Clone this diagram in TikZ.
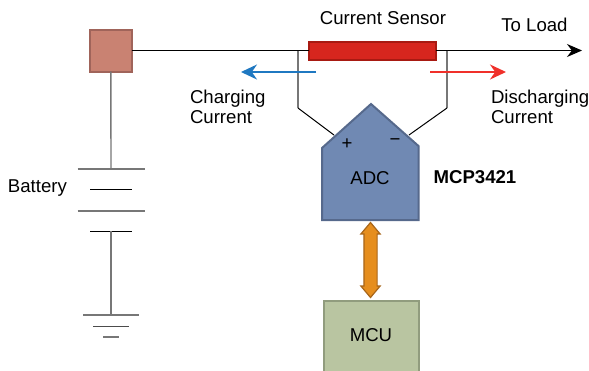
\documentclass[tikz,border=0pt]{standalone}
\usepackage{fontspec}
\setmainfont{Liberation Sans}
\usetikzlibrary{arrows,arrows.meta,positioning,shapes.arrows}
\definecolor{boxfill}{HTML}{C98272}
\definecolor{boxline}{HTML}{A0645A}
\definecolor{sensorfill}{HTML}{D7261E}
\definecolor{sensorline}{HTML}{A81A12}
\definecolor{adcfill}{HTML}{7089B3}
\definecolor{adcline}{HTML}{56698C}
\definecolor{mcufill}{HTML}{B9C5A1}
\definecolor{mculine}{HTML}{919C7E}
\definecolor{busfill}{HTML}{E68E1E}
\definecolor{busline}{HTML}{A8661A}
\definecolor{wiregray}{HTML}{777777}
\definecolor{chargeblue}{HTML}{1F78C1}
\definecolor{dischargered}{HTML}{F0302A}
\tikzset{
    label/.style = {inner sep=0pt, outer sep=0pt, font=\fontsize{18.6}{19}\selectfont, align=left},
    block/.style = {draw, line width=2pt, outer sep=0pt, inner sep=0pt},
    wire/.style = {draw=black, line width=1pt},
    graywire/.style = {draw=wiregray, line width=1.4pt},
    flow/.style = {line width=2pt, -{Stealth[length=16pt,width=15pt]}},
}

\begin{document}
\begin{tikzpicture}[x=1pt,y=1pt,>=stealth']
\useasboundingbox (0,0) rectangle (589,-370);

\node (cell) [block,fill=boxfill,draw=boxline,minimum width=42pt,minimum height=42pt] at (110.8,-50.5) {};
\node (sensor) [block,fill=sensorfill,draw=sensorline,minimum width=127pt,minimum height=18pt,right=177pt of cell] {};
\coordinate (load) at (582,-50.5);
\coordinate (tapleft) at (298,-50.5);
\coordinate (tapright) at (447,-50.5);

% battery
\coordinate (platea) at (111,-169);
\coordinate (plateb) at ([yshift=-20pt]platea);
\coordinate (platec) at ([yshift=-42pt]platea);
\coordinate (plated) at ([yshift=-62pt]platea);
\coordinate (grounda) at (111,-315);
\coordinate (groundb) at ([yshift=-11pt]grounda);
\coordinate (groundc) at ([yshift=-22pt]grounda);

% adc
\coordinate (adcbl) at (322,-220);
\coordinate (adcbr) at (418.5,-220);
\coordinate (adcsr) at (418.5,-146);
\coordinate (adctop) at (371,-104);
\coordinate (adcsl) at (322,-148);
\coordinate (adcplus) at (334,-135);
\coordinate (adcminus) at (409,-135);
\coordinate (bendleft) at (298,-108);
\coordinate (bendright) at (447,-108);
\draw[block,draw=adcline,fill=adcfill] (adcbl) -- (adcbr) -- (adcsr) -- (adctop) -- (adcsl) -- cycle;
\node (adc) [label] at (370,-178) {ADC};
\node (plus) [label] at (347,-144) {+};
\node (minus) [label] at (395,-142.5) {−};
\node (chip) [label,right=44pt of adc,yshift=0.5pt] {\textbf{MCP3421}};

\node (mcu) [block,fill=mcufill,draw=mculine,minimum width=95pt,minimum height=72pt,anchor=north] at (371,-300.5) {};
\node (mcutext) [label] at (371,-335.5) {MCU};

\node (bus) [double arrow,draw=busline,fill=busfill,line width=1.2pt,inner sep=0pt,outer sep=0pt,
  minimum width=19pt,minimum height=75pt,double arrow head extend=3pt,double arrow tip angle=80,
  rotate=90] at (370.5,-260) {\rule{0pt}{12pt}};

% texts
\node (sensortext) [label] at (383,-18) {Current Sensor};
\node (loadtext) [label,anchor=center] at (534.5,-25) {To Load};
\node (battery) [label,anchor=west] at (8,-188.5) {Battery};
\node (charging) [label,anchor=north west] at (190,-90.5) {Charging\\[0.8pt]Current};
\node (discharging) [label,anchor=north west] at (491,-90.5) {Discharging\\[0.8pt]Current};

% connectors
\draw[wire] (cell) -- (sensor);
\draw[wire,-{Stealth[length=15pt,width=13pt]}] (sensor) -- (load);
\draw[graywire] (cell) -- (platea);
\draw[graywire] (tapleft) -- (bendleft);
\draw[wire] (bendleft) -- (adcplus);
\draw[graywire] (tapright) -- (bendright);
\draw[wire] (bendright) -- (adcminus);
\draw[graywire] ([xshift=-33.5pt]platea) -- ([xshift=33.5pt]platea);
\draw[wire] ([xshift=-21pt]plateb) -- ([xshift=21pt]plateb);
\draw[graywire] ([xshift=-33.5pt]platec) -- ([xshift=33.5pt]platec);
\draw[wire] ([xshift=-21pt]plated) -- ([xshift=21pt]plated);
\draw[graywire,line width=1.2pt] (plated) -- (grounda);
\draw[graywire] ([xshift=-28pt]grounda) -- ([xshift=28pt]grounda);
\draw[wire,draw=black!70] ([xshift=-18pt]groundb) -- ([xshift=18pt]groundb);
\draw[graywire,line width=1.6pt] ([xshift=-8pt]groundc) -- ([xshift=8pt]groundc);
\coordinate (bluestart) at (316,-72);
\coordinate (blueend) at (241,-72);
\coordinate (redstart) at (430,-72);
\coordinate (redend) at (506,-72);
\draw[flow,draw=chargeblue,color=chargeblue] (bluestart) -- (blueend);
\draw[flow,draw=dischargered,color=dischargered] (redstart) -- (redend);
\end{tikzpicture}
\end{document}
